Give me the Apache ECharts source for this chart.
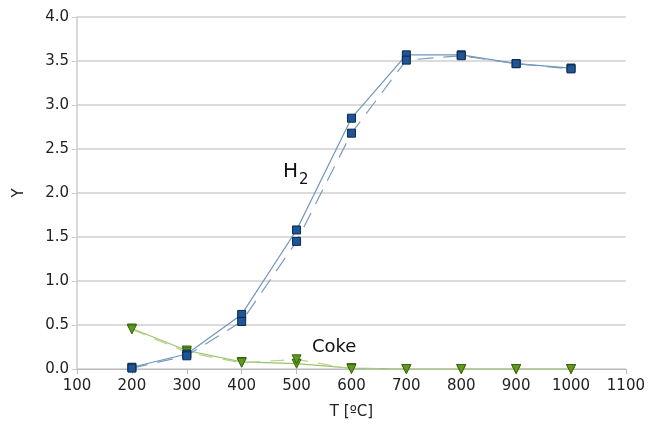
<!DOCTYPE html>
<html>
<head>
<meta charset="utf-8">
<script src="https://cdn.jsdelivr.net/npm/echarts@6/dist/echarts.min.js"></script>
<style>
  html, body { margin: 0; padding: 0; background: #fff; }
  #chart { width: 648px; height: 427px; }
</style>
</head>
<body>
<div id="chart"></div>
<script>
  const temps = [200, 300, 400, 500, 600, 700, 800, 900, 1000];
  const h2Solid = [0.02, 0.17, 0.62, 1.58, 2.85, 3.57, 3.57, 3.47, 3.42];
  const h2Dashed = [0.01, 0.15, 0.54, 1.45, 2.68, 3.51, 3.56, 3.47, 3.41];
  const cokeSolid = [0.46, 0.21, 0.08, 0.06, 0.01, 0.0, 0.0, 0.0, 0.0];
  const cokeDashed = [0.45, 0.19, 0.07, 0.11, 0.0, 0.0, 0.0, 0.0, 0.0];

  const pairs = vals => temps.map((t, i) => [t, vals[i]]);

  const chart = echarts.init(document.getElementById('chart'));
  const font = 'DejaVu Sans';

  const h2Style = {
    type: 'line',
    symbol: 'rect',
    symbolSize: 8,
    itemStyle: { color: '#1d5596', borderColor: '#0d2a4a', borderWidth: 1 },
    animation: false,
    z: 3
  };
  const cokeStyle = {
    type: 'line',
    symbol: 'triangle',
    symbolRotate: 180,
    symbolSize: 9,
    itemStyle: { color: '#5f9a1c', borderColor: '#3b6410', borderWidth: 1 },
    animation: false,
    z: 2
  };

  const option = {
    grid: { left: 77, right: 18, top: 17, bottom: 58 },
    xAxis: {
      type: 'value',
      min: 100, max: 1100, interval: 100,
      name: 'T [ºC]',
      nameLocation: 'middle',
      nameGap: 36,
      nameTextStyle: { fontFamily: font, fontSize: 15, color: '#222' },
      axisLine: { show: true, lineStyle: { color: '#bbb', width: 1 } },
      axisTick: { show: true, length: 5, lineStyle: { color: '#bbb' } },
      axisLabel: { fontFamily: font, fontSize: 15, color: '#222', margin: 10, formatter: v => String(v) },
      splitLine: { show: false }
    },
    yAxis: {
      type: 'value',
      min: 0, max: 4, interval: 0.5,
      name: 'Y',
      nameLocation: 'middle',
      nameGap: 50,
      nameTextStyle: { fontFamily: font, fontSize: 15, color: '#222' },
      axisLine: { show: true, lineStyle: { color: '#ccc', width: 1.5 } },
      axisTick: { show: true, length: 5, lineStyle: { color: '#ccc' } },
      axisLabel: {
        fontFamily: font, fontSize: 15, color: '#222', margin: 8,
        formatter: v => v.toFixed(1)
      },
      splitLine: { show: true, lineStyle: { color: '#cfcfcf', width: 1.5 } }
    },
    graphic: [
      {
        type: 'text', left: 283, top: 162,
        style: {
          text: '{a|H}{b|2}',
          rich: {
            a: { fontFamily: font, fontSize: 20, fill: '#111' },
            b: { fontFamily: font, fontSize: 15, fill: '#111', padding: [16, 0, 0, 1] }
          }
        }
      },
      {
        type: 'text', left: 312, top: 338,
        style: { text: 'Coke', fontFamily: font, fontSize: 18, fill: '#111' }
      }
    ],
    series: [
      Object.assign({}, cokeStyle, {
        name: 'Coke solid',
        data: pairs(cokeSolid),
        lineStyle: { color: '#9cc46a', width: 1.2 }
      }),
      Object.assign({}, cokeStyle, {
        name: 'Coke dashed',
        data: pairs(cokeDashed),
        lineStyle: { color: '#b4d48c', width: 1.2, type: [14, 10] }
      }),
      Object.assign({}, h2Style, {
        name: 'H2 solid',
        data: pairs(h2Solid),
        lineStyle: { color: '#6f94bb', width: 1.2 }
      }),
      Object.assign({}, h2Style, {
        name: 'H2 dashed',
        data: pairs(h2Dashed),
        lineStyle: { color: '#7b9cc0', width: 1.2, type: [16, 10] }
      })
    ]
  };
  chart.setOption(option);
</script>
</body>
</html>
